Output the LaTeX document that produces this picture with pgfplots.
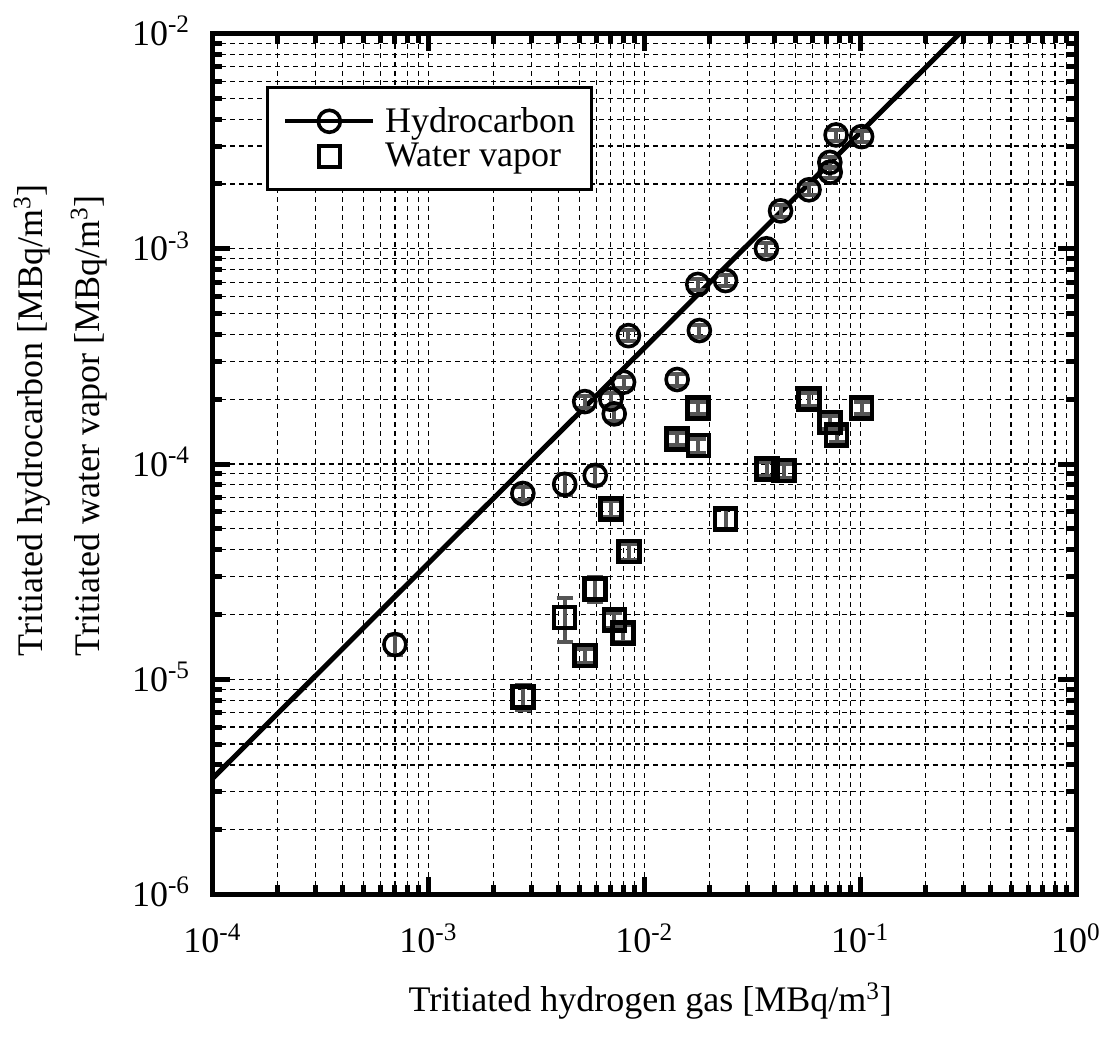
\documentclass[border=0pt]{standalone}
\usepackage{pgfplots}
\pgfplotsset{compat=1.18}
\usepackage{pgfplotstable}
\usepackage{fontspec}
\setmainfont{Liberation Serif}
\definecolor{errgray}{RGB}{85,85,85}
\newcommand\ff{\fontsize{18}{21.6}\selectfont}

\pgfplotstableread{
x y ey
7.0e-4 1.45e-5 1.6e-6
2.74e-3 7.3e-5 5e-6
4.28e-3 8.05e-5 9e-6
5.3e-3 1.95e-4 1.2e-5
5.93e-3 8.85e-5 9e-6
7.0e-3 2.0e-4 1.4e-5
7.26e-3 1.71e-4 1.3e-5
8.02e-3 2.4e-4 1.5e-5
8.45e-3 3.95e-4 2.4e-5
0.0142 2.47e-4 1.6e-5
0.0177 6.83e-4 4e-5
0.018 4.17e-4 2.6e-5
0.0238 7.12e-4 4e-5
0.0368 1.0e-3 6e-5
0.0428 1.5e-3 9e-5
0.058 1.88e-3 1.1e-4
0.0724 2.52e-3 1.5e-4
0.0727 2.27e-3 1.4e-4
0.0774 3.38e-3 2e-4
0.1016 3.32e-3 2e-4
}\hydro

\pgfplotstableread{
x y ey
2.74e-3 8.3e-6 1.1e-6
4.28e-3 1.94e-5 4.5e-6
5.3e-3 1.29e-5 1.0e-6
5.93e-3 2.63e-5 3.5e-6
7.03e-3 6.2e-5 5e-6
7.27e-3 1.89e-5 1.5e-6
7.96e-3 1.64e-5 1.5e-6
8.5e-3 3.92e-5 3.5e-6
0.0142 1.31e-4 9e-6
0.0177 1.82e-4 1.2e-5
0.0178 1.22e-4 9e-6
0.0238 5.56e-5 6e-6
0.037 9.5e-5 7e-6
0.0444 9.33e-5 7e-6
0.058 2.0e-4 1.4e-5
0.0725 1.56e-4 1.1e-5
0.0778 1.36e-4 1e-5
0.1016 1.82e-4 1.2e-5
}\water

\pgfplotsset{
  longlegend/.style={legend image code/.code={
    \path[draw=none, fill=none] (0pt,-6pt) rectangle (44pt,6pt);
    \draw[mark repeat=2,mark phase=2,##1] plot coordinates {(0pt,0pt) (22pt,0pt) (44pt,0pt)};}},
  errstyle/.style={error bars/.cd, y dir=both, y explicit,
    error bar style={color=errgray, line width=2pt, solid},
    error mark options={rotate=90, mark size=4pt, color=errgray, line width=2pt}},
}

\begin{document}
\begin{tikzpicture}[font=\ff]
\begin{axis}[
  at={(0,0)}, anchor=south west,
  scale only axis, width=431.75pt, height=430.5pt,
  xmode=log, ymode=log,
  xmin=1e-4, xmax=1, ymin=1e-6, ymax=1e-2,
  xtick={1e-4,1e-3,1e-2,1e-1,1},
  xticklabels={10\textsuperscript{-4},10\textsuperscript{-3},10\textsuperscript{-2},10\textsuperscript{-1},10\textsuperscript{0}},
  ytick={1e-6,1e-5,1e-4,1e-3,1e-2},
  yticklabels={10\textsuperscript{-6},10\textsuperscript{-5},10\textsuperscript{-4},10\textsuperscript{-3},10\textsuperscript{-2}},
  minor xtick={2e-4,3e-4,4e-4,5e-4,6e-4,7e-4,8e-4,9e-4,2e-3,3e-3,4e-3,5e-3,6e-3,7e-3,8e-3,9e-3,2e-2,3e-2,4e-2,5e-2,6e-2,7e-2,8e-2,9e-2,0.2,0.3,0.4,0.5,0.6,0.7,0.8,0.9},
  minor ytick={2e-6,3e-6,4e-6,5e-6,6e-6,7e-6,8e-6,9e-6,2e-5,3e-5,4e-5,5e-5,6e-5,7e-5,8e-5,9e-5,2e-4,3e-4,4e-4,5e-4,6e-4,7e-4,8e-4,9e-4,2e-3,3e-3,4e-3,5e-3,6e-3,7e-3,8e-3,9e-3},
  grid=both,
  major grid style={black, line width=0.6pt, dash pattern=on 2.5pt off 2pt},
  minor grid style={black, line width=0.6pt, dash pattern=on 2.5pt off 2pt},
  axis line style={line width=2.5pt},
  tick style={black, line width=2.5pt},
  major tick length=9pt, minor tick length=5pt,
  tick align=inside,
  tick label style={font=\ff},
  xticklabel style={anchor=base, inner sep=0pt, yshift=-29.2pt},
  yticklabel style={anchor=base east, inner sep=0pt, xshift=-11pt, yshift=-6pt},
  label style={font=\ff},
  xlabel={Tritiated hydrogen gas [MBq/m\textsuperscript{3}]},
  xlabel style={at={(axis description cs:0.5,0)}, anchor=base, inner sep=0pt, yshift=-58.65pt, xshift=3pt},
  ylabel={Tritiated hydrocarbon [MBq/m\textsuperscript{3}]},
  ylabel style={at={(axis description cs:-0.1963,0.2761)}, anchor=base west, inner sep=0pt},
  longlegend,
  legend cell align=left,
  legend style={at={(axis description cs:0.062,0.9393)}, anchor=north west, draw=black, line width=1.5pt, fill=white, font=\ff, inner xsep=8pt, inner ysep=10pt, row sep=4pt, column sep=5pt, nodes={inner sep=0pt}},
]
\addlegendimage{black, line width=1.8pt, mark=o, mark size=5.5pt, mark options={solid, line width=1.8pt}}
\addlegendentry{Hydrocarbon}
\addlegendimage{only marks, black, mark=square, mark size=5.25pt, mark options={solid, line width=2.3pt}}
\addlegendentry{Water vapor}

\addplot[black, line width=2.5pt, forget plot] coordinates {(1e-4,3.46e-6) (0.289,1e-2)};

\addplot[forget plot, only marks, black, mark=o, mark size=5.5pt, mark options={line width=1.8pt}, errstyle]
  table[x=x, y=y, y error=ey] {\hydro};
\addplot[forget plot, only marks, black, mark=square, mark size=5.25pt, mark options={line width=2.3pt}, errstyle]
  table[x=x, y=y, y error=ey] {\water};
\end{axis}
\node[rotate=90, anchor=base west, inner sep=0pt, font=\ff] at (-56.25pt,118.85pt) {Tritiated water vapor [MBq/m\textsuperscript{3}]};
\pgfresetboundingbox
\useasboundingbox (-106.25pt,-75.65pt) rectangle (446.75pt,447.25pt);
\end{tikzpicture}
\end{document}
